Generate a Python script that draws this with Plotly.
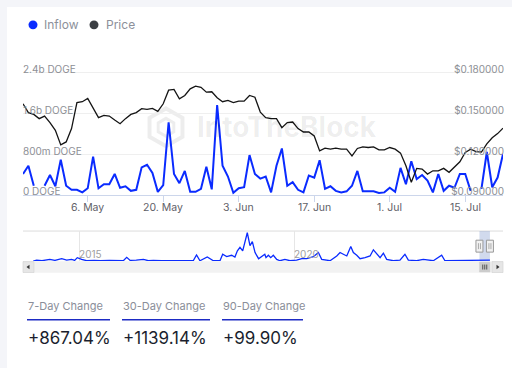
import plotly.graph_objects as go
import pandas as pd

W, H = 512, 368

# ---------------- data ----------------
start_date = "2024-04-24"
n_days = 90
inflow_b = [0.41, 0.57, 0.18, None, 0.18, 0.39, 0.17, 0.69, 0.18, 0.10,
            0.10, 0.05, 0.13, 0.75, 0.13, 0.21, 0.21, 0.41, 0.14, 0.17,
            0.08, 0.10, 0.54, 0.59, 0.43, 0.06, 0.19, 1.42, 0.41, 0.23,
            0.47, 0.06, 0.06, 0.12, 0.55, 0.11, 1.76, 0.57, 0.36, 0.04,
            0.13, 0.15, 0.78, 0.41, 0.32, 0.36, 0.05, 0.57, 0.91, 0.18,
            0.25, 0.10, 0.05, 0.38, 0.34, 0.68, 0.12, 0.17, 0.08, 0.05,
            0.07, 0.18, 0.47, 0.07, 0.07, 0.07, 0.04, 0.05, 0.14, 0.06,
            0.53, 0.21, 0.66, 0.31, 0.39, 0.28, 0.05, 0.41, 0.08, 0.18,
            0.14, 0.41, 0.41, 0.08, None, 0.12, 0.84, 0.15, 0.34, 0.80]
price = [0.1569, 0.1504, 0.1491, 0.1460, 0.1479, 0.1431, 0.1374, 0.1267, 0.1289, 0.1387,
         0.1577, 0.1584, 0.1608, 0.1540, 0.1467, 0.1484, 0.1479, 0.1450, 0.1423, 0.1460,
         0.1491, 0.1504, 0.1533, 0.1528, 0.1535, 0.1513, 0.1569, 0.1669, 0.1674, 0.1606,
         0.1630, 0.1679, 0.1698, 0.1690, 0.1654, 0.1657, 0.1613, 0.1584, 0.1594, 0.1577,
         0.1588, 0.1588, 0.1630, 0.1617, 0.1508, 0.1467, 0.1460, 0.1460, 0.1394, 0.1431,
         0.1435, 0.1387, 0.1362, 0.1362, 0.1333, 0.1223, 0.1243, 0.1236, 0.1243, 0.1236,
         0.1236, 0.1187, 0.1241, 0.1253, 0.1248, 0.1253, 0.1231, 0.1231, 0.1248, 0.1236,
         0.1207, 0.1114, 0.0993, 0.1095, 0.1090, 0.1053, 0.1077, 0.1077, 0.1095, 0.1066,
         0.1102, 0.1143, 0.1212, 0.1236, 0.1218, 0.1215, 0.1275, 0.1320, 0.1350, 0.1390]

left_tick_vals = [0, 0.8e9, 1.6e9, 2.4e9]
left_tick_text = ["0 DOGE", "800m DOGE", "1.6b DOGE", "2.4b DOGE"]
right_tick_vals = [0.09, 0.12, 0.15, 0.18]
right_tick_text = ["$0.090000", "$0.120000", "$0.150000", "$0.180000"]
x_tick_vals = ["2024-05-06", "2024-05-20", "2024-06-03", "2024-06-17", "2024-07-01", "2024-07-15"]
x_tick_text = ["6. May", "20. May", "3. Jun", "17. Jun", "1. Jul", "15. Jul"]

nav_dates = ["2013-12-08", "2014-01-06", "2014-02-20", "2014-04-28", "2014-06-10", "2014-08-07",
             "2014-09-18", "2014-10-30", "2014-11-25", "2014-12-17", "2015-01-23", "2015-03-07",
             "2015-05-10", "2015-07-01", "2015-09-15", "2015-11-20", "2016-01-12", "2016-02-10",
             "2016-03-10", "2016-05-01", "2016-07-01", "2016-08-12", "2016-09-23", "2016-12-01",
             "2017-02-15", "2017-05-01", "2017-08-28", "2017-09-25", "2017-10-24", "2017-12-25",
             "2018-02-15", "2018-04-12", "2018-05-05", "2018-06-08", "2018-07-20", "2018-08-17",
             "2018-09-07", "2018-09-29", "2018-10-22", "2018-11-10", "2018-11-30", "2018-12-23",
             "2019-01-12", "2019-02-04", "2019-03-06", "2019-04-28", "2019-05-08", "2019-05-28",
             "2019-06-17", "2019-07-09", "2019-08-07", "2019-09-04", "2019-10-16", "2019-11-27",
             "2020-01-23", "2020-03-07", "2020-04-18", "2020-06-14", "2020-07-26", "2020-08-23",
             "2020-11-02", "2020-12-29", "2021-01-26", "2021-02-23", "2021-03-24", "2021-04-27",
             "2021-05-19", "2021-06-17", "2021-07-15", "2021-08-26", "2021-10-08", "2021-11-05",
             "2021-12-04", "2022-01-01", "2022-01-29", "2022-02-26", "2022-04-23", "2022-06-19",
             "2022-07-31", "2022-08-29", "2022-11-07", "2023-01-03", "2023-03-29", "2023-06-08",
             "2023-07-06", "2023-09-16", "2024-01-06", "2024-04-28", "2024-07-22"]
nav_values = [0.0, 0.3, 0.1, 0.5, 0.2, 0.7,
              0.3, 0.5, 0.2, 1.0, 0.5, 0.1,
              0.2, 0.1, 0.2, 0.05, 0.1, 1.1,
              0.2, 0.3, 0.5, 0.1, 0.2, 0.1,
              0.2, 0.1, 0.1, 1.8, 0.1, 1.2,
              0.1, 0.1, 2.0, 1.3, 1.7, 1.2,
              3.0, 4.0, 3.0, 5.5, 8.3, 4.5,
              5.7, 2.5, 0.7, 2.0, 1.0, 1.7,
              1.0, 1.7, 0.5, 0.1, 0.5, 0.1,
              0.3, 0.7, 0.7, 1.3, 2.5, 0.5,
              0.1, 1.5, 2.5, 2.0, 1.5, 4.3,
              2.5, 1.7, 0.7, 1.0, 1.5, 3.3,
              2.0, 1.0, 2.3, 0.5, 0.1, 0.3,
              2.0, 0.3, 0.1, 0.5, 0.1, 1.7,
              0.1, 0.1, 0.2, 0.1, 0.3]
nav_tick_vals = ["2015-01-01", "2020-01-01"]
nav_tick_text = ["2015", "2020"]

stat_labels = ["7-Day Change", "30-Day Change", "90-Day Change"]
stat_values = ["+867.04%", "+1139.14%", "+99.90%"]

# ---------------- styling ----------------
BLUE = "#0a2bff"
FONT = "Inter"
dates = pd.date_range(start_date, periods=n_days, freq="D")
inflow = [None if v is None else v * 1e9 for v in inflow_b]


def fx(px):
    return px / W


def fy(py):
    return 1 - py / H


X0, X1 = 23, 503
Y_BASE, Y_TOP_GRID = 196.0, 72.7
EXT = 1.125  # extend axis range above the top gridline so its label stays visible
y_top_px = Y_BASE - (Y_BASE - Y_TOP_GRID) * EXT

fig = go.Figure()
fig.add_trace(go.Scatter(x=dates, y=inflow, name="Inflow", mode="lines",
                         line=dict(color=BLUE, width=2), connectgaps=False,
                         xaxis="x", yaxis="y", showlegend=False))
fig.add_trace(go.Scatter(x=dates, y=price, name="Price", mode="lines",
                         line=dict(color="#141414", width=1.3),
                         xaxis="x", yaxis="y2", showlegend=False))
fig.add_trace(go.Scatter(x=nav_dates, y=nav_values, name="Inflow (navigator)", mode="lines",
                         line=dict(color=BLUE, width=1.3),
                         xaxis="x3", yaxis="y3", showlegend=False))

shapes = []
# white card
shapes.append(dict(type="rect", xref="paper", yref="paper", x0=fx(7), x1=1.02, y0=-0.02, y1=fy(7),
                   fillcolor="white", line=dict(width=0), layer="below"))
# navigator top line
shapes.append(dict(type="line", xref="paper", yref="paper", x0=fx(X0), x1=fx(X1), y0=fy(232.3), y1=fy(232.3),
                   line=dict(color="#dcdcdc", width=1), layer="below"))
# navigator selected zone
shapes.append(dict(type="rect", xref="x3", yref="paper", x0=dates[0], x1=dates[-1], y0=fy(262.5), y1=fy(232.3),
                   fillcolor="rgba(102,133,194,0.3)", line=dict(width=0), layer="below"))
# scrollbar track
shapes.append(dict(type="rect", xref="paper", yref="paper", x0=fx(X0), x1=fx(X1), y0=fy(274), y1=fy(263),
                   fillcolor="#f2f2f2", line=dict(color="#f2f2f2", width=0.5)))
# scrollbar buttons
for bx0, bx1 in [(X0, X0 + 11), (X1 - 11, X1)]:
    shapes.append(dict(type="rect", xref="paper", yref="paper", x0=fx(bx0), x1=fx(bx1), y0=fy(274), y1=fy(263),
                       fillcolor="#e6e6e6", line=dict(color="#cccccc", width=0.5)))
# arrows
shapes.append(dict(type="path", xref="paper", yref="paper",
                   path=f"M {fx(29.5)} {fy(266.3)} L {fx(26.5)} {fy(268.5)} L {fx(29.5)} {fy(270.7)} Z",
                   fillcolor="#333333", line=dict(width=0)))
shapes.append(dict(type="path", xref="paper", yref="paper",
                   path=f"M {fx(496.5)} {fy(266.3)} L {fx(499.5)} {fy(268.5)} L {fx(496.5)} {fy(270.7)} Z",
                   fillcolor="#333333", line=dict(width=0)))
# scrollbar thumb tied to selected range
shapes.append(dict(type="rect", xref="x3", yref="paper", x0=dates[0], x1=dates[-1], y0=fy(273.5), y1=fy(263.5),
                   fillcolor="#cccccc", line=dict(color="#cccccc", width=0.5)))
mid = dates[n_days // 2]
for off in (-2, 0, 2):
    shapes.append(dict(type="line", xref="x3", yref="paper", xsizemode="pixel", xanchor=mid,
                       x0=off, x1=off, y0=fy(271), y1=fy(266), line=dict(color="#333333", width=0.8)))
# navigator handles
for d in (dates[0], dates[-1]):
    shapes.append(dict(type="rect", xref="x3", yref="paper", xsizemode="pixel", xanchor=d,
                       x0=-3.5, x1=3.5, y0=fy(253.5), y1=fy(241.5),
                       fillcolor="#f2f2f2", line=dict(color="#999999", width=1)))
    for off in (-1, 1):
        shapes.append(dict(type="line", xref="x3", yref="paper", xsizemode="pixel", xanchor=d,
                           x0=off, x1=off, y0=fy(250.5), y1=fy(244.5), line=dict(color="#999999", width=0.8)))
# legend dots
shapes.append(dict(type="circle", xref="paper", yref="paper", x0=fx(28.5), x1=fx(37.5), y0=fy(29.5), y1=fy(20.5),
                   fillcolor=BLUE, line=dict(width=0)))
shapes.append(dict(type="circle", xref="paper", yref="paper", x0=fx(89.5), x1=fx(98.5), y0=fy(29.5), y1=fy(20.5),
                   fillcolor="#3b3e43", line=dict(width=0)))
# stat underlines
for ux0, ux1 in [(27, 110), (122, 210), (222, 303)]:
    shapes.append(dict(type="line", xref="paper", yref="paper", x0=fx(ux0), x1=fx(ux1), y0=fy(321.5), y1=fy(321.5),
                       line=dict(color="#1d2bc4", width=1.5)))
# watermark logo (hexagon cube)
cx, cy, r = 166, 128, 19
hexpts = [(cx, cy - r), (cx + 0.866 * r, cy - 0.5 * r), (cx + 0.866 * r, cy + 0.5 * r),
          (cx, cy + r), (cx - 0.866 * r, cy + 0.5 * r), (cx - 0.866 * r, cy - 0.5 * r)]
p = "M " + " L ".join(f"{fx(a)} {fy(b)}" for a, b in hexpts) + " Z"
shapes.append(dict(type="path", xref="paper", yref="paper", path=p,
                   line=dict(color="rgba(0,0,0,0.07)", width=4), layer="below"))
r2 = 9
inner = [(cx, cy - r2), (cx + 0.866 * r2, cy - 0.5 * r2), (cx + 0.866 * r2, cy + 0.5 * r2),
         (cx, cy + r2), (cx - 0.866 * r2, cy + 0.5 * r2), (cx - 0.866 * r2, cy - 0.5 * r2)]
p2 = "M " + " L ".join(f"{fx(a)} {fy(b)}" for a, b in inner) + " Z"
shapes.append(dict(type="path", xref="paper", yref="paper", path=p2,
                   line=dict(color="rgba(0,0,0,0.07)", width=3), layer="below"))

annotations = []
annotations.append(dict(text="IntoTheBlock", xref="paper", yref="paper", x=fx(287), y=fy(128),
                        xanchor="center", yanchor="middle", showarrow=False,
                        font=dict(family=FONT, size=28, color="rgba(0,0,0,0.075)", weight=700)))
annotations.append(dict(text="Inflow", xref="paper", yref="paper", x=fx(41.5), y=fy(25),
                        xanchor="left", yanchor="middle", showarrow=False,
                        font=dict(family=FONT, size=12, color="#8c909a")))
annotations.append(dict(text="Price", xref="paper", yref="paper", x=fx(103.5), y=fy(25),
                        xanchor="left", yanchor="middle", showarrow=False,
                        font=dict(family=FONT, size=12, color="#8c909a")))
# x-axis tick labels (placed at their dates on the x axis)
for tv, tt in zip(x_tick_vals, x_tick_text):
    annotations.append(dict(text=tt, xref="x", yref="paper", x=tv, y=fy(208.5),
                            xanchor="center", yanchor="middle", showarrow=False,
                            font=dict(family=FONT, size=10.5, color="#5f6168")))
for lx, lab, val in zip([26, 121, 221], stat_labels, stat_values):
    annotations.append(dict(text=lab, xref="paper", yref="paper", x=fx(lx), y=fy(308),
                            xanchor="left", yanchor="middle", showarrow=False,
                            font=dict(family=FONT, size=11, color="#8a8e99")))
    annotations.append(dict(text=val, xref="paper", yref="paper", x=fx(lx), y=fy(339.5),
                            xanchor="left", yanchor="middle", showarrow=False,
                            font=dict(family=FONT, size=17, color="#1b1f2e")))

axis_font = dict(family=FONT, size=10, color="#8d8f95")
fig.update_layout(
    width=W, height=H,
    margin=dict(l=0, r=0, t=0, b=0),
    paper_bgcolor="#f4f5f9",
    plot_bgcolor="rgba(0,0,0,0)",
    showlegend=False,
    font=dict(family=FONT),
    xaxis=dict(domain=[fx(X0), fx(X1)], anchor="y", type="date",
               range=[dates[0], dates[-1]], tickvals=x_tick_vals, ticktext=x_tick_text,
               showticklabels=False,
               ticks="outside", ticklen=6, tickcolor="#ccd6eb", showline=True, linecolor="#ccd6eb",
               linewidth=1, showgrid=False, zeroline=False),
    yaxis=dict(domain=[fy(Y_BASE), fy(y_top_px)], anchor="x", range=[0, 2.4e9 * EXT],
               tickvals=left_tick_vals, ticktext=left_tick_text, ticklabelposition="inside top",
               ticklabelshift=4, ticklabelstandoff=-3, ticklabeloverflow="allow",
               showgrid=True, gridcolor="#efefef", zeroline=False, showline=False, ticks="",
               tickfont=axis_font),
    yaxis2=dict(overlaying="y", side="right", anchor="free", position=fx(X1),
                range=[0.09, 0.09 + 0.09 * EXT],
                tickvals=right_tick_vals, ticktext=right_tick_text, ticklabelposition="inside top",
                ticklabelshift=4, ticklabelstandoff=-4, ticklabeloverflow="allow",
                showgrid=False, zeroline=False, showline=False, ticks="", tickfont=axis_font),
    xaxis3=dict(domain=[fx(X0), fx(X1)], anchor="y3", type="date",
                range=["2013-09-12", "2024-11-10"], tickvals=nav_tick_vals, ticktext=nav_tick_text,
                ticklabelposition="inside right", ticklabelstandoff=-5, ticks="",
                showgrid=True, gridcolor="#e6e6e6",
                showline=False, zeroline=False,
                tickfont=dict(family=FONT, size=10, color="#a0a0a0")),
    yaxis3=dict(domain=[fy(262.5), fy(232.3)], anchor="x3", range=[0, 8.8], visible=False),
    shapes=shapes,
    annotations=annotations,
)

fig.write_html("out.html", config={"displayModeBar": False},
               post_script="document.body.style.margin='0';document.body.style.background='#f4f5f9';")
